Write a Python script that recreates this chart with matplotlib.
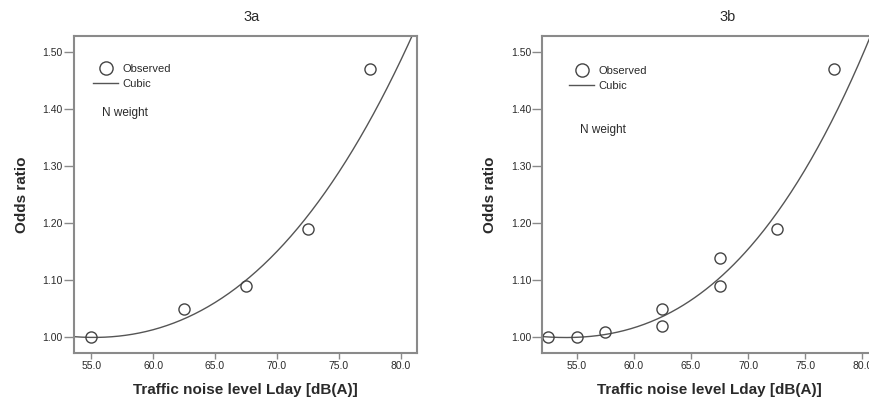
import numpy as np
import matplotlib
matplotlib.use("Agg")
import matplotlib.pyplot as plt
from matplotlib.lines import Line2D

plt.rcParams['font.family'] = ['Liberation Sans', 'DejaVu Sans']

# observed odds ratios
obs_x_a = [55.0, 62.5, 67.5, 72.5, 77.5]
obs_y_a = [1.00, 1.05, 1.09, 1.19, 1.47]

obs_x_b = [52.5, 55.0, 57.5, 62.5, 62.5, 67.5, 67.5, 72.5, 77.5]
obs_y_b = [1.00, 1.00, 1.01, 1.05, 1.02, 1.14, 1.09, 1.19, 1.47]

# cubic fit line
fit_x_a = [53.6, 55.0, 57.5, 60.0, 62.5, 65.0, 67.5, 70.0, 72.5, 75.0, 77.5, 80.0, 80.9]
fit_y_a = [1.001, 1.000, 1.003, 1.013, 1.033, 1.061, 1.100, 1.150, 1.214, 1.290, 1.380, 1.485, 1.528]

fit_x_b = [52.0, 52.5, 55.0, 57.5, 60.0, 62.5, 65.0, 67.5, 70.0, 72.5, 75.0, 77.5, 80.0, 80.6]
fit_y_b = [1.002, 1.001, 1.000, 1.005, 1.013, 1.036, 1.062, 1.112, 1.159, 1.217, 1.287, 1.387, 1.492, 1.528]

xticks = [55.0, 60.0, 65.0, 70.0, 75.0, 80.0]
yticks = [1.00, 1.10, 1.20, 1.30, 1.40, 1.50]

W, H = 869, 398
fig = plt.figure(figsize=(W / 100, H / 100), dpi=100)

spine_col = '#8a8a8a'
txt_col = '#2a2a2a'
mark_col = '#444444'
line_col = '#555555'


def make_panel(rect, fx, fy, ox, oy, xlim, leg_anchor, nw_pos):
    ax = fig.add_axes(rect)
    coef = np.polyfit(fx, fy, 3)
    xs = np.linspace(xlim[0], xlim[1], 300)
    ax.plot(xs, np.polyval(coef, xs), color=line_col, lw=1.0)
    ax.plot(ox, oy, 'o', ms=8, mfc='none', mec=mark_col, mew=1.0, clip_on=False)
    ax.set_xlim(*xlim)
    ax.set_ylim(0.9725, 1.5286)
    ax.set_xticks(xticks)
    ax.set_xticklabels(['%.1f' % v for v in xticks])
    ax.set_yticks(yticks)
    ax.set_yticklabels(['%.2f' % v for v in yticks])
    ax.tick_params(axis='x', length=4, width=1, color=spine_col, labelsize=7.5,
                   labelcolor=txt_col, pad=1.5)
    ax.tick_params(axis='y', length=7, width=1, color=spine_col, labelsize=7.5,
                   labelcolor=txt_col, pad=1)
    for s in ax.spines.values():
        s.set_color(spine_col)
        s.set_linewidth(1.5)
    ax.set_xlabel('Traffic noise level Lday [dB(A)]', fontsize=11, fontweight='bold',
                  color=txt_col, labelpad=9)
    ax.set_ylabel('Odds ratio', fontsize=11, fontweight='bold', color=txt_col, labelpad=10)

    handles = [Line2D([], [], ls='none', marker='o', ms=9.5, mfc='none', mec=mark_col, mew=1.0),
               Line2D([], [], color=line_col, lw=1.0)]
    ax.legend(handles, ['Observed', 'Cubic'], loc='upper left', bbox_to_anchor=leg_anchor,
              frameon=False, fontsize=8, handlelength=2.25, handletextpad=0.4,
              labelspacing=0.45, borderpad=0, borderaxespad=0, labelcolor=txt_col)
    ax.text(nw_pos[0], nw_pos[1], 'N weight', transform=ax.transAxes, fontsize=8.5,
            color=txt_col, va='center', ha='left')
    return ax


ax_a = make_panel([74 / W, 1 - 353 / H, 343 / W, 317 / H],
                  fit_x_a, fit_y_a, obs_x_a, obs_y_a, (53.6, 81.32),
                  (0.056, 0.913), (0.082, 0.758))
ax_b = make_panel([542.3 / W, 1 - 353 / H, 335 / W, 317 / H],
                  fit_x_b, fit_y_b, obs_x_b, obs_y_b, (52.0, 81.3),
                  (0.08, 0.905), (0.112, 0.704))

fig.text(252 / W, 1 - 17 / H, '3a', ha='center', va='center', fontsize=10.5, color=txt_col)
fig.text(728 / W, 1 - 17 / H, '3b', ha='center', va='center', fontsize=10.5, color=txt_col)

fig.savefig('out.png', dpi=100)
